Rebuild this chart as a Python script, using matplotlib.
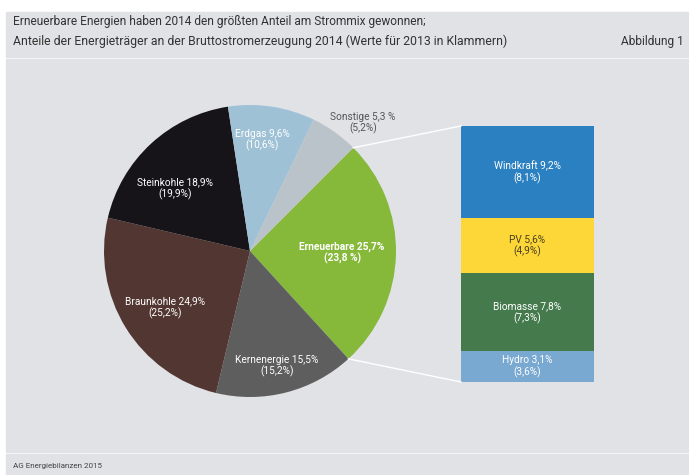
import matplotlib.pyplot as plt
from matplotlib.patches import Rectangle
import numpy as np

plt.rcParams['font.family'] = ['Roboto', 'DejaVu Sans']

# pie data (2014, in brackets 2013)
pie_labels = ['Erneuerbare', 'Kernenergie', 'Braunkohle', 'Steinkohle', 'Erdgas', 'Sonstige']
pie_2014 = [25.7, 15.5, 24.9, 18.9, 9.6, 5.3]
pie_2013 = ['23,8 %', '15,2%', '25,2%', '19,9%', '10,6%', '5,2%']
pie_2014_txt = ['25,7%', '15,5%', '24,9%', '18,9%', '9,6%', '5,3 %']
pie_colors = ['#86b93a', '#5e5e5e', '#523631', '#161418', '#9fc1d6', '#b9c3c9']

# breakdown of renewables
bar_labels = ['Hydro', 'Biomasse', 'PV', 'Windkraft']
bar_2014 = [3.1, 7.8, 5.6, 9.2]
bar_2014_txt = ['3,1%', '7,8%', '5,6%', '9,2%']
bar_2013 = ['3,6%', '7,3%', '4,9%', '8,1%']
bar_colors = ['#79a8d1', '#447a4c', '#fdd637', '#2a80c0']

W, H = 689, 475
fig = plt.figure(figsize=(W / 100, H / 100), dpi=100)
fig.patch.set_facecolor('white')
ax = fig.add_axes([0, 0, 1, 1])

bg = '#e1e2e6'
# header, panel, footer (y in pixels from top)
for y0, y1 in [(12, 57), (59, 452), (454, 475)]:
    ax.add_patch(Rectangle((6, H - y1), W - 6, y1 - y0, color=bg, zorder=0))

ax.text(13, H - 21, 'Erneuerbare Energien haben 2014 den größten Anteil am Strommix gewonnen;',
        fontsize=8.6, color='#333333', va='center')
ax.text(13, H - 41, 'Anteile der Energieträger an der Bruttostromerzeugung 2014 (Werte für 2013 in Klammern)',
        fontsize=8.8, color='#333333', va='center')
ax.text(684, H - 41, 'Abbildung 1', fontsize=8.6, color='#333333', va='center', ha='right')
ax.text(13, H - 466, 'AG Energiebilanzen 2015', fontsize=5.8, color='#444444', va='center')

# pie
cx, cy, r = 250, H - 251, 146
start = 45
ax.pie(pie_2014, colors=pie_colors, startangle=start, counterclock=False,
       center=(cx, cy), radius=r, frame=True,
       wedgeprops=dict(linewidth=0))
ax.set_xlim(0, W)
ax.set_ylim(0, H)
ax.set_aspect('auto')
ax.axis('off')

label_pos = {
    'Erneuerbare': (342, 253),
    'Kernenergie': (277, 366),
    'Braunkohle': (165, 308),
    'Steinkohle': (175, 189),
    'Erdgas': (262, 140),
    'Sonstige': (363, 123),
}
for lab, v, old in zip(pie_labels, pie_2014_txt, pie_2013):
    x, y = label_pos[lab]
    col = '#555555' if lab == 'Sonstige' else 'white'
    fw = 'bold' if lab == 'Erneuerbare' else 'normal'
    ax.text(x, H - y, f'{lab} {v}\n({old})', ha='center', va='center',
            fontsize=7.3, color=col, fontweight=fw, linespacing=1.15)

# stacked bar for renewables
bar_x0, bar_x1 = 461, 594
bar_bottom, bar_top = H - 382, H - 126
scale = (bar_top - bar_bottom) / sum(bar_2014)
bottoms = bar_bottom + scale * np.concatenate([[0], np.cumsum(bar_2014)[:-1]])
heights = scale * np.array(bar_2014)
ax.bar([(bar_x0 + bar_x1) / 2] * 4, heights, bottom=bottoms, width=bar_x1 - bar_x0,
       color=bar_colors, linewidth=0)
for lab, v, old, b, h in zip(bar_labels, bar_2014_txt, bar_2013, bottoms, heights):
    col = '#4a4020' if lab == 'PV' else 'white'
    ax.text((bar_x0 + bar_x1) / 2, b + h / 2, f'{lab} {v}\n({old})', ha='center', va='center',
            fontsize=7.3, color=col, linespacing=1.15)

# connector lines from the renewables wedge to the bar
a0 = np.deg2rad(start)
a1 = np.deg2rad(start - 360 * pie_2014[0] / sum(pie_2014))
ax.plot([cx + r * np.cos(a0), bar_x0], [cy + r * np.sin(a0), bar_top], color='white', lw=1)
ax.plot([cx + r * np.cos(a1), bar_x0], [cy + r * np.sin(a1), bar_bottom], color='white', lw=1)

fig.savefig('out.png', dpi=100)
